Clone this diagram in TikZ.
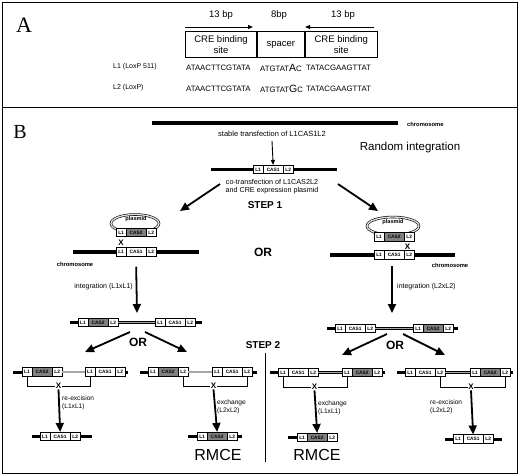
\documentclass[tikz,border=0pt]{standalone}
\usepackage{fontspec}
\setmainfont{Liberation Sans}
\newfontfamily\serifA{Liberation Serif}
\usetikzlibrary{arrows.meta}
\newcommand{\fsz}[1]{\fontsize{#1}{#1}\selectfont}
\tikzset{
  lb/.style={draw, line width=0.6pt, fill=white, inner sep=0pt, minimum height=8.5pt, font=\fsz{4.8}\bfseries},
  lk/.style={lb, minimum width=9.5pt},
  ck/.style={lb, minimum width=19.5pt},
  gk/.style={ck, fill=black!50},
  chrom/.style={line width=3.8pt},
  arm/.style={line width=3pt},
  pl/.style={double=black!35, double distance=1.4pt, line width=0.55pt},
  plring/.style={double=black!12, double distance=1.3pt, line width=0.6pt},
  barr/.style={-{Triangle[length=9pt,width=8pt]}, line width=1.8pt},
  sarr/.style={-{Triangle[length=5pt,width=4pt]}, line width=0.9pt},
  brk/.style={line width=0.7pt},
  lab/.style={font=\fsz{7}, inner sep=0pt},
  tinyb/.style={font=\fsz{5.8}\bfseries, inner sep=0pt},
  xm/.style={font=\fsz{8}\bfseries, inner sep=0.4pt, fill=white},
  orl/.style={font=\fsz{12}\bfseries, inner sep=0pt},
  stepl/.style={font=\fsz{10}\bfseries, inner sep=0pt},
  rmce/.style={font=\fsz{16}, inner sep=0pt},
  seq/.style={font=\fsz{7.8}, inner sep=0pt, anchor=west},
}
\newcommand{\cassette}[5]{%
  \node[lk, anchor=west] (#1a) at (#2,#3) {L1};
  \node[#5, anchor=west] (#1b) at (#1a.east) {#4};
  \node[lk, anchor=west] (#1c) at (#1b.east) {L2};}
\begin{document}
\begin{tikzpicture}[x=1pt,y=-1pt]
\useasboundingbox (0,0) rectangle (520,475);
% frame
\draw[line width=1pt] (2,2) rectangle (517,473);
\draw[line width=1pt] (2,107) -- (517,107);
% ---------------- Panel A
\node[font=\serifA\fsz{22}, inner sep=0pt] (pA) at (24,25) {A};
\node[font=\fsz{9.5}, inner sep=0pt] (bp1) at (221,15) {13 bp};
\node[font=\fsz{9.5}, inner sep=0pt] (bp2) at (279,15) {8bp};
\node[font=\fsz{9.5}, inner sep=0pt] (bp3) at (343,15) {13 bp};
\coordinate (a1s) at (185,27); \coordinate (a1e) at (253,27);
\coordinate (a2s) at (374,27); \coordinate (a2e) at (305,27);
\draw[-{Triangle[length=5pt,width=4pt]}, line width=1pt] (a1s) -- (a1e);
\draw[-{Triangle[length=5pt,width=4pt]}, line width=1pt] (a2s) -- (a2e);
\node[draw, line width=0.9pt, minimum width=71pt, minimum height=26pt, anchor=north west, inner sep=0pt, align=center, font=\fsz{9.5}] (cre1) at (185,31) {CRE binding\\[1pt]site};
\node[draw, line width=0.9pt, minimum width=47pt, minimum height=26pt, anchor=north west, inner sep=0pt, font=\fsz{9.5}] (spc) at (cre1.north east) {spacer};
\node[draw, line width=0.9pt, minimum width=72pt, minimum height=26pt, anchor=north west, inner sep=0pt, align=center, font=\fsz{9.5}] (cre2) at (spc.north east) {CRE binding\\[1pt]site};
\node[font=\fsz{7}, inner sep=0pt, anchor=west] (l1n) at (113,67) {L1 (LoxP 511)};
\node[font=\fsz{7}, inner sep=0pt, anchor=west] (l2n) at (113,88) {L2 (LoxP)};
\node[seq] (s11) at (186,68) {ATAACTTCGTATA};
\node[seq] (s12) at (260,68) {ATGTAT{\fsz{10.5}A}C};
\node[seq] (s13) at (306,68) {TATACGAAGTTAT};
\node[seq] (s21) at (186,89) {ATAACTTCGTATA};
\node[seq] (s22) at (260,89) {ATGTAT{\fsz{10.5}G}C};
\node[seq] (s23) at (306,89) {TATACGAAGTTAT};
% ---------------- Panel B
\node[font=\serifA\fsz{20}, inner sep=0pt] (pB) at (20,132) {B};
\coordinate (ch0a) at (152,123); \coordinate (ch0b) at (398,123);
\draw[chrom] (ch0a) -- (ch0b);
\node[tinyb, anchor=west] (chl0) at (407,124) {chromosome};
\node[font=\fsz{7.5}, inner sep=0pt] (stt) at (272,134) {stable transfection of L1CAS1L2};
\node[font=\fsz{11.5}, inner sep=0pt] (rint) at (410,148) {Random integration};
\coordinate (c1l) at (211,169.5); \coordinate (c1r) at (337,169.5);
\draw[arm] (c1l) -- (c1r);
\cassette{k}{253}{169.5}{CAS1}{ck}
\draw[sarr] (stt.south) ++(0,4) coordinate (sa1) -- (kb.north);
\node[font=\fsz{7.2}, inner sep=0pt, align=center] (cot) at (272,186.5) {co-transfection of L1CAS2L2\\[1.2pt]and CRE expression plasmid};
\node[stepl] (st1) at (265,205) {STEP 1};
\node[orl] (or0) at (263,252) {OR};
% left plasmid group
\node[draw=none, minimum width=48pt, minimum height=18pt, inner sep=0pt] (lpe) at (135,223.5) {};
\draw[plring] (lpe.center) ellipse [x radius=24pt, y radius=9pt];
\node[font=\fsz{5.6}\bfseries, inner sep=0pt] (lpn) at (136,219.5) {plasmid};
\draw[chrom] (73,252) -- (199,252);
\cassette{lt}{116}{232.5}{CAS2}{gk}
\cassette{lb}{116}{252}{CAS1}{ck}
\node[xm, fill=none] (lx) at (121,242.5) {X};
\node[tinyb] (lchl) at (75,264) {chromosome};
\coordinate (la1) at (220,184); \coordinate (la1e) at (180,211);
\draw[barr] (la1) -- (la1e);
\draw[barr] (lbb.south) ++(0,10) coordinate (lvs) -- (137,313) coordinate (lve);
\node[lab, anchor=east] (lint) at (133,287) {integration (L1xL1)};
% right plasmid group
\node[draw=none, minimum width=52pt, minimum height=18pt, inner sep=0pt] (rpe) at (393,226) {};
\draw[plring] (rpe.center) ellipse [x radius=26pt, y radius=9pt];
\node[font=\fsz{5.6}\bfseries, inner sep=0pt] (rpn) at (393,222) {plasmid};
\draw[chrom] (330,255) -- (455,255);
\cassette{rt}{374}{237}{CAS2}{gk}
\cassette{rb}{374}{255}{CAS1}{ck}
\node[xm, fill=none] (rx) at (407.5,246.5) {X};
\node[tinyb] (rchl) at (450,265) {chromosome};
\coordinate (ra1) at (338,184); \coordinate (ra1e) at (378,211);
\draw[barr] (ra1) -- (ra1e);
\draw[barr] (392,266) coordinate (rvs) -- (392,313) coordinate (rve);
\node[lab, anchor=west] (rint2) at (397,287) {integration (L2xL2)};
% ---------------- row 2 left
\cassette{p}{78}{322.5}{CAS2}{gk}
\cassette{q}{155}{322.5}{CAS1}{ck}
\draw[arm] (70,322.5) -- (pa.west);
\draw[arm] (qc.east) -- (202,322.5);
\draw[pl] (pc.east) -- (qa.west);
\node[orl] (or1) at (138,342) {OR};
\draw[barr] (130,332) coordinate (o1s) -- (85,352) coordinate (o1e);
\draw[barr] (145,332) coordinate (o2s) -- (187,352) coordinate (o2e);
% ---------------- row 2 right
\cassette{u}{335}{328.5}{CAS1}{ck}
\cassette{v}{413}{328.5}{CAS2}{gk}
\draw[arm] (327,328.5) -- (ua.west);
\draw[arm] (vc.east) -- (458,328.5);
\draw[pl] (uc.east) -- (va.west);
\node[orl] (or2) at (395,345) {OR};
\draw[barr] (387,334) coordinate (o3s) -- (342,355) coordinate (o3e);
\draw[barr] (403,334) coordinate (o4s) -- (445,355) coordinate (o4e);
% STEP 2 and divider
\node[stepl] (st2) at (263,345) {STEP 2};
\draw[line width=0.8pt] (265,353) coordinate (dv1) -- (265,462) coordinate (dv2);
% ---------------- row 3 (a) re-excision L1xL1
\cassette{ea}{22}{372}{CAS2}{gk}
\cassette{eb}{85}{372}{CAS1}{ck}
\draw[arm] (13,372) -- (eaa.west);
\draw[arm] (ebc.east) -- (128,372);
\draw[pl] (eac.east) -- (eba.west);
\draw[brk] (eaa.south) -- ++(0,10) -| (eba.south);
\node[xm] (x1) at (58.5,386) {X};
\cassette{r1}{40}{436.5}{CAS1}{ck}
\draw[arm] (32,436.5) -- (r1a.west);
\draw[arm] (r1c.east) -- (92,436.5);
\draw[barr] (x1.south) -- (r1b.north);
\node[lab, anchor=west, align=left, font=\fsz{6.6}] (t1) at (62,403) {re-excision\\[1.5pt](L1xL1)};
% ---------------- row 3 (b) exchange L2xL2
\cassette{fa}{148}{372}{CAS2}{gk}
\cassette{fb}{212}{372}{CAS1}{ck}
\draw[arm] (140,372) -- (faa.west);
\draw[arm] (fbc.east) -- (257,372);
\draw[pl] (fac.east) -- (fba.west);
\draw[brk] (fac.south) -- ++(0,10) -| (fbc.south);
\node[xm] (x2) at (213.5,386) {X};
\cassette{r2}{197}{436.5}{CAS2}{gk}
\draw[arm] (188,436.5) -- (r2a.west);
\draw[arm] (r2c.east) -- (242,436.5);
\draw[barr] (x2.south) -- (r2b.north);
\node[lab, anchor=west, align=left, font=\fsz{6.6}] (t2) at (217,407) {exchange\\[1.5pt](L2xL2)};
\node[rmce] (rm1) at (218,455) {RMCE};
% ---------------- row 3 (c) exchange L1xL1
\cassette{ga}{278}{372.5}{CAS1}{ck}
\cassette{gb}{342}{372.5}{CAS2}{gk}
\draw[arm] (270,372.5) -- (gaa.west);
\draw[arm] (gbc.east) -- (385,372.5);
\draw[pl] (gac.east) -- (gba.west);
\draw[brk] (gaa.south) -- ++(0,10) -| (gba.south);
\node[xm] (x3) at (314.5,387) {X};
\cassette{r3}{297}{437.5}{CAS2}{gk}
\draw[arm] (288,437.5) -- (r3a.west);
\draw[arm] (r3c.east) -- (337,437.5);
\draw[barr] (x3.south) -- (r3b.north);
\node[lab, anchor=west, align=left, font=\fsz{6.6}] (t3) at (318,407.5) {exchange\\[1.5pt](L1xL1)};
\node[rmce] (rm2) at (317,455) {RMCE};
% ---------------- row 3 (d) re-excision L2xL2
\cassette{ha}{405}{372.5}{CAS1}{ck}
\cassette{hb}{470}{372.5}{CAS2}{gk}
\draw[arm] (397,372.5) -- (haa.west);
\draw[arm] (hbc.east) -- (513,372.5);
\draw[pl] (hac.east) -- (hba.west);
\draw[brk] (hac.south) -- ++(0,10) -| (hbc.south);
\node[xm] (x4) at (471,387) {X};
\cassette{r4}{453}{439}{CAS1}{ck}
\draw[arm] (445,439) -- (r4a.west);
\draw[arm] (r4c.east) -- (502,439);
\draw[barr] (x4.south) -- (r4b.north);
\node[lab, anchor=west, align=left, font=\fsz{6.6}] (t4) at (430,407) {re-excision\\[1.5pt](L2xL2)};
\end{tikzpicture}
\end{document}
